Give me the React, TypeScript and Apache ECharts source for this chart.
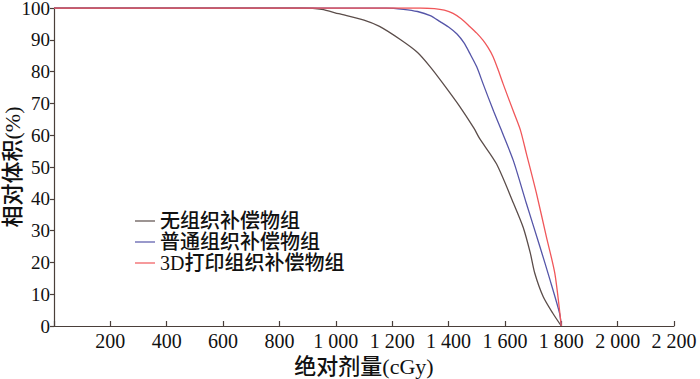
import React, { useEffect, useRef } from "react";
import * as echarts from "echarts";

const seriesNames = ["无组织补偿物组", "普通组织补偿物组", "3D打印组织补偿物组"];
const seriesColors = ["#5b4d4a", "#5555a8", "#f0575a"];

const doseNone = [0, 880, 950, 1010, 1100, 1155, 1230, 1290, 1335, 1380, 1440, 1490, 1510, 1570, 1630, 1665, 1690, 1706, 1736, 1770, 1800];
const volNone = [100, 100, 99.6, 98.2, 96.2, 94.2, 90, 86, 81.5, 76.3, 69, 62.2, 59, 51, 38.7, 31, 23, 16.6, 9.2, 4, 0];

const doseNormal = [0, 1180, 1240, 1290, 1335, 1370, 1400, 1430, 1455, 1475, 1500, 1522, 1560, 1590, 1630, 1676, 1724, 1760, 1794, 1800];
const volNormal = [100, 100, 99.6, 98.9, 97.6, 95.7, 94, 91.8, 89, 85.8, 81.5, 76.3, 67.5, 61, 52, 38.6, 25, 14.5, 4, 0];

const dosePrinted = [0, 1300, 1350, 1385, 1416, 1445, 1475, 1500, 1522, 1540, 1558, 1575, 1593, 1630, 1655, 1676, 1712, 1747, 1777, 1800];
const volPrinted = [100, 100, 99.8, 99.3, 98.3, 96.6, 94.2, 92.1, 89.9, 87.6, 84.7, 80.8, 76.3, 67.5, 61.6, 54.3, 41.7, 28.1, 16.6, 0];

const xTicks = { min: 0, max: 2200, interval: 200 };
const yTicks = { min: 0, max: 100, interval: 10 };

const xName = "绝对剂量(cGy)";
const yName = "相对体积(%)";

const pair = (xs: number[], ys: number[]) => xs.map((x, i) => [x, ys[i]]);

const FONT = "Liberation Serif, Noto Sans CJK SC, serif";
const AXIS_COLOR = "#4a3f3a";

export default function App() {
  const ref = useRef<HTMLDivElement>(null);
  useEffect(() => {
    if (!ref.current) return;
    const chart = echarts.init(ref.current, undefined, { renderer: "svg" });
    const datasets = [pair(doseNone, volNone), pair(doseNormal, volNormal), pair(dosePrinted, volPrinted)];
    chart.setOption({
      animation: false,
      grid: { left: 54, right: 26, top: 8, bottom: 53, containLabel: false, outerBoundsMode: "none" },
      legend: {
        orient: "vertical",
        left: 135,
        top: 211,
        padding: 0,
        icon: "rect",
        itemWidth: 20,
        itemHeight: 1.2,
        itemGap: 1,
        data: seriesNames,
        textStyle: { fontFamily: FONT, fontSize: 20, lineHeight: 20, color: "#111", fontWeight: 500, padding: [0, 0, 0, 0] },
      },
      xAxis: {
        type: "value",
        ...xTicks,
        name: xName,
        nameLocation: "middle",
        nameGap: 29,
        nameMoveOverlap: false,
        nameTextStyle: { fontFamily: FONT, fontSize: 22, color: "#111", fontWeight: 500 },
        splitLine: { show: false },
        axisLine: { lineStyle: { color: AXIS_COLOR, width: 1.2 } },
        axisTick: { inside: true, length: 5, lineStyle: { color: AXIS_COLOR, width: 1.2 } },
        axisLabel: {
          fontFamily: FONT,
          fontSize: 20,
          color: "#111",
          margin: 5,
          formatter: (v: number) => (v === 0 ? "" : String(v).replace(/\B(?=(\d{3})+(?!\d))/g, " ")),
        },
      },
      yAxis: {
        type: "value",
        ...yTicks,
        name: yName,
        nameLocation: "middle",
        nameGap: 31,
        nameMoveOverlap: false,
        nameRotate: 90,
        nameTextStyle: { fontFamily: FONT, fontSize: 22, color: "#111", fontWeight: 500 },
        splitLine: { show: false },
        axisLine: { show: true, lineStyle: { color: AXIS_COLOR, width: 1.2 } },
        axisTick: { show: true, length: 4, lineStyle: { color: AXIS_COLOR, width: 1.2 } },
        axisLabel: { fontFamily: FONT, fontSize: 19, color: "#111", margin: 4 },
      },
      series: seriesNames.map((name, i) => ({
        name,
        type: "line",
        data: datasets[i],
        showSymbol: false,
        smooth: 0.25,
        lineStyle: { color: seriesColors[i], width: 1.3 },
        itemStyle: { color: seriesColors[i] },
      })),
    });
    return () => chart.dispose();
  }, []);
  return (
    <div
      ref={ref}
      style={{ position: "absolute", left: 0, top: 0, width: 700, height: 379, background: "#fff" }}
    />
  );
}
